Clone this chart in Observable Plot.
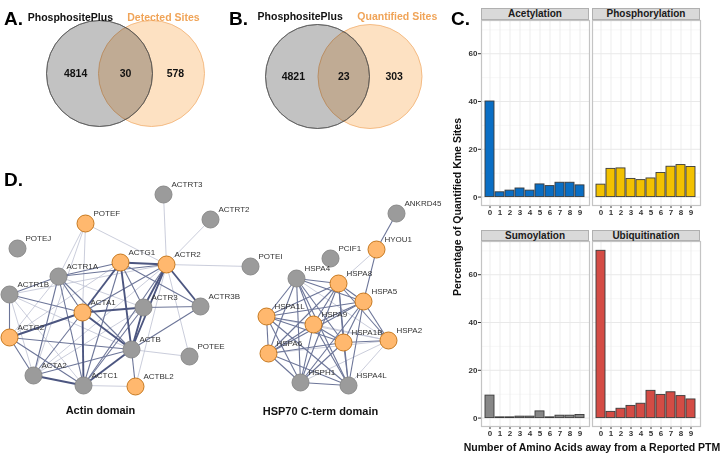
<!DOCTYPE html>
<html><head><meta charset="utf-8">
<script src="https://cdn.jsdelivr.net/npm/d3@7"></script>
<script src="https://cdn.jsdelivr.net/npm/@observablehq/plot@0.6"></script>
<style>
body{margin:0;background:#fff;}
#fig{position:relative;width:720px;height:458px;overflow:hidden;font-family:"Liberation Sans",Arial,sans-serif;background:#fff;}
.abs{position:absolute;}
.abs svg{display:block;overflow:visible;}
.letter{position:absolute;font-weight:bold;font-size:19px;color:#000;line-height:1;}
.strip{position:absolute;box-sizing:border-box;background:#d9d9d9;border:1px solid #b0b0b0;font-weight:bold;font-size:10px;line-height:10px;text-align:center;color:#1a1a1a;}
.atitle{position:absolute;font-weight:bold;font-size:10.5px;color:#111;text-align:center;white-space:nowrap;}
</style></head><body><div id="fig"></div>
<script>
// ---------------- DATA ----------------
// Panel A / B Venn diagrams
const vennASets = ["PhosphositePlus", "Detected Sites"];
const vennACounts = [4814, 30, 578];
const vennBSets = ["PhosphositePlus", "Quantified Sites"];
const vennBCounts = [4821, 23, 303];

// Panel C: percentage of quantified Kme sites vs distance to reported PTM
const ptms = ["Acetylation", "Phosphorylation", "Sumoylation", "Ubiquitination"];
const distances = ["0", "1", "2", "3", "4", "5", "6", "7", "8", "9"];
const acetylation = [40.0, 2.0, 2.7, 3.6, 2.7, 5.3, 4.6, 6.0, 6.0, 4.9];
const phosphorylation = [5.2, 11.8, 12.0, 7.6, 7.1, 7.8, 10.1, 12.7, 13.4, 12.6];
const sumoylation = [9.4, 0.3, 0.3, 0.6, 0.6, 2.8, 0.3, 1.0, 1.0, 1.3];
const ubiquitination = [70.0, 2.6, 3.9, 5.1, 6.0, 11.4, 9.7, 10.8, 9.2, 7.8];
const yTicks = [0, 20, 40, 60];

// Panel D: STRING networks
const domainNames = ["Actin domain", "HSP70 C-term domain"];
const actinProteins = ["ACTRT3","ACTRT2","POTEF","POTEJ","ACTG1","ACTR2","POTEI","ACTR1A","ACTR1B","ACTR3","ACTR3B","ACTA1","ACTG2","ACTB","POTEE","ACTA2","ACTC1","ACTBL2"];
const hspProteins = ["ANKRD45","HYOU1","PCIF1","HSPA4","HSPA8","HSPA5","HSPA1L","HSPA9","HSPA1B","HSPA2","HSPA6","HSPH1","HSPA4L"];
const quantifiedProteins = ["POTEF","ACTG1","ACTR2","ACTA1","ACTG2","ACTBL2","HYOU1","HSPA8","HSPA5","HSPA9","HSPA1B","HSPA2","HSPA1L","HSPA6"];
// [protein A, protein B, confidence 1..3]
const actinEdges = [
  ["POTEF","ACTR2",1],["POTEF","ACTA1",1],["POTEF","ACTR1A",1],["POTEF","ACTA2",1],
  ["ACTRT3","ACTR2",1],["ACTRT2","ACTR2",1],["POTEI","ACTR2",1],["POTEE","ACTR2",1],["ACTBL2","ACTR2",1],
  ["POTEE","ACTB",1],["ACTBL2","ACTC1",1],["ACTBL2","ACTB",2],
  ["ACTG1","ACTR1A",2],["ACTG1","ACTR2",3],["ACTG1","ACTA1",3],["ACTG1","ACTR3",2],["ACTG1","ACTB",3],["ACTG1","ACTR3B",2],["ACTG1","ACTC1",2],["ACTG1","ACTG2",1],
  ["ACTR2","ACTR1A",2],["ACTR2","ACTR3",3],["ACTR2","ACTR3B",3],["ACTR2","ACTB",3],["ACTR2","ACTA1",2],["ACTR2","ACTC1",2],["ACTR2","ACTR1B",1],["ACTR2","ACTA2",1],
  ["ACTR1A","ACTR1B",2],["ACTR1A","ACTA1",2],["ACTR1A","ACTR3",1],["ACTR1A","ACTB",2],["ACTR1A","ACTA2",2],["ACTR1A","ACTC1",2],["ACTR1A","ACTG2",1],
  ["ACTR1B","ACTG2",2],["ACTR1B","ACTA1",2],["ACTR1B","ACTA2",1],["ACTR1B","ACTB",1],["ACTR1B","ACTC1",1],
  ["ACTA1","ACTR3",3],["ACTA1","ACTB",3],["ACTA1","ACTG2",3],["ACTA1","ACTA2",2],["ACTA1","ACTC1",3],
  ["ACTR3","ACTR3B",2],["ACTR3","ACTB",3],["ACTR3","ACTC1",2],["ACTR3","ACTA2",1],
  ["ACTR3B","ACTB",2],["ACTG2","ACTA2",2],["ACTG2","ACTC1",2],["ACTG2","ACTB",2],
  ["ACTB","ACTA2",2],["ACTB","ACTC1",3],["ACTA2","ACTC1",3]
];
const hspEdges = [
  ["ANKRD45","HYOU1",2],["HYOU1","HSPA5",2],["HYOU1","HSPA8",1],
  ["HSPA4","HSPA8",2],["HSPA4","HSPA5",2],["HSPA4","HSPA9",2],["HSPA4","HSPA1B",2],["HSPA4","HSPA1L",2],["HSPA4","HSPA6",2],["HSPA4","HSPH1",2],["HSPA4","HSPA4L",2],["HSPA4","HSPA2",1],
  ["HSPA8","HSPA5",2],["HSPA8","HSPA9",2],["HSPA8","HSPA1B",2],["HSPA8","HSPA1L",2],["HSPA8","HSPA6",2],["HSPA8","HSPH1",2],["HSPA8","HSPA4L",2],["HSPA8","HSPA2",2],
  ["HSPA5","HSPA9",2],["HSPA5","HSPA1B",2],["HSPA5","HSPA1L",2],["HSPA5","HSPA6",2],["HSPA5","HSPH1",2],["HSPA5","HSPA4L",2],["HSPA5","HSPA2",2],
  ["HSPA9","HSPA1B",2],["HSPA9","HSPA1L",2],["HSPA9","HSPA6",2],["HSPA9","HSPH1",2],["HSPA9","HSPA4L",2],["HSPA9","HSPA2",1],
  ["HSPA1B","HSPA1L",2],["HSPA1B","HSPA6",2],["HSPA1B","HSPH1",2],["HSPA1B","HSPA4L",2],["HSPA1B","HSPA2",2],
  ["HSPA1L","HSPA6",2],["HSPA1L","HSPH1",2],["HSPA1L","HSPA4L",2],["HSPA1L","HSPA2",1],
  ["HSPA6","HSPH1",2],["HSPA6","HSPA4L",2],["HSPA6","HSPA2",1],
  ["HSPH1","HSPA4L",2],["HSPH1","HSPA2",1],["HSPA2","HSPA4L",1]
];

// ---------------- LAYOUT (network node positions, layout units) ----------------
const layout = {
  ACTRT3:[163,34], ACTRT2:[210,59], POTEF:[85,63], POTEJ:[17,88], ACTG1:[120,102], ACTR2:[166,104],
  POTEI:[250,106], ACTR1A:[58,116], ACTR1B:[9,134], ACTR3:[143,147], ACTR3B:[200,146], ACTA1:[82,152],
  ACTG2:[9,177], ACTB:[131,189], POTEE:[189,196], ACTA2:[33,215], ACTC1:[83,225], ACTBL2:[135,226],
  ANKRD45:[396,53], HYOU1:[376,89], PCIF1:[330,98], HSPA4:[296,118], HSPA8:[338,123], HSPA5:[363,141],
  HSPA1L:[266,156], HSPA9:[313,164], HSPA1B:[343,182], HSPA2:[388,180], HSPA6:[268,193], HSPH1:[300,222], HSPA4L:[348,225]
};
const domainLabelPos = [[100,250],[320,251]];

const fig = document.getElementById("fig");
function place(node, left, top){
  const d = document.createElement("div");
  d.className = "abs"; d.style.left = left + "px"; d.style.top = top + "px";
  d.appendChild(node); fig.appendChild(d); return d;
}
function html(cls, text, css){
  const d = document.createElement("div"); d.className = cls; d.textContent = text;
  Object.assign(d.style, css); fig.appendChild(d); return d;
}
const FONT = '"Liberation Sans", Arial, sans-serif';

// ---------------- VENN ----------------
function venn(sets, counts, L, W, cx0, cx1, cy, r, titleX, titleY){
  const H = 140, T = cy - H/2;
  const circles = sets.map((s,i)=>({s, i}));
  const regionX = [-0.46, 0.5, 1.46];
  const regions = counts.map((c,i)=>({c, x: regionX[i]}));
  const titles = sets.map((s,i)=>({s, x: titleX[i], i}));
  const p = Plot.plot({
    width: W, height: H, margin: 0,
    x: {domain: [0,1], range: [cx0 - L, cx1 - L], axis: null},
    style: {fontFamily: FONT, background: "transparent"},
    marks: [
      Plot.dot([circles[0]], {x: "i", r, fill: "#c2c2c2", stroke: "#555", strokeWidth: 0.8}),
      Plot.dot([circles[1]], {x: "i", r, fill: "#fde1c2", stroke: "#f3b67a", strokeWidth: 0.9, mixBlendMode: "multiply"}),
      Plot.dot([circles[0]], {x: "i", r, fill: "none", stroke: "#555", strokeWidth: 0.8, strokeOpacity: 0.7}),
      Plot.text(regions, {x: "x", text: d => String(d.c), fontSize: 10.5, fontWeight: "bold", fill: "#111"}),
      Plot.text(titles, {x: "x", frameAnchor: "top", dy: titleY - T, text: "s", fontSize: 10.5, fontWeight: "bold",
        fill: d => d.i === 0 ? "#111" : "#f0a458"})
    ]
  });
  place(p, L, T);
}
venn(vennASets, vennACounts, 0, 232, 99, 151, 73, 53, [-0.56, 1.23], 13);
venn(vennBSets, vennBCounts, 232, 236, 317, 369.5, 76, 52, [-0.33, 1.52], 12);

// ---------------- NETWORK ----------------
{
  const q = new Set(quantifiedProteins);
  const nodes = [...actinProteins, ...hspProteins].map(n => ({name: n, x: layout[n][0], y: layout[n][1], q: q.has(n)}));
  const edges = [...actinEdges, ...hspEdges].map(([a,b,w]) => ({a, b, w,
    x1: layout[a][0], y1: layout[a][1], x2: layout[b][0], y2: layout[b][1]})).sort((u,v)=>u.w-v.w);
  const eColor = {1: "#bcc0d2", 2: "#6c7598", 3: "#4c5680"};
  const eWidth = {1: 0.8, 2: 1.1, 3: 1.9};
  const dl = domainNames.map((n,i)=>({n, x: domainLabelPos[i][0], y: domainLabelPos[i][1]}));
  const p = Plot.plot({
    width: 420, height: 270, margin: 0,
    x: {domain: [0,420], range: [0,420], axis: null},
    y: {domain: [0,270], range: [0,270], axis: null},
    style: {fontFamily: FONT, background: "transparent"},
    marks: [
      Plot.link(edges, {x1: "x1", y1: "y1", x2: "x2", y2: "y2", stroke: d => eColor[d.w], strokeWidth: d => eWidth[d.w]}),
      Plot.dot(nodes, {x: "x", y: "y", r: 8.5, fill: d => d.q ? "#ffb86e" : "#9b9b9b", stroke: d => d.q ? "#c7791f" : "#8a8a8a", strokeWidth: 1}),
      Plot.text(nodes, {x: "x", y: "y", text: "name", dx: 8, dy: -10, textAnchor: "start", fontSize: 8, fill: "#333"}),
      Plot.text(dl, {x: "x", y: "y", text: "n", fontSize: 11, fontWeight: "bold", fill: "#111"})
    ]
  });
  place(p, 0, 160);
}

// ---------------- FACET BARS ----------------
const ptmValues = [acetylation, phosphorylation, sumoylation, ubiquitination];
const ptmColors = ["#0a6ec4", "#f2c100", "#878787", "#d44c45"];
const panelLeft = [481, 592, 481, 592];
const panelTop = [20, 20, 241, 241];
const stripTop = [8, 8, 230, 230];
ptms.forEach((name, k) => {
  const data = distances.map((d,i)=>({d, v: ptmValues[k][i]}));
  const showY = k % 2 === 0;
  const PW = 108, PH = 185, ML = 22, MB = 16;
  const p = Plot.plot({
    width: ML + PW + 1, height: PH + MB, marginLeft: ML, marginRight: 1, marginTop: 0, marginBottom: MB,
    x: {type: "band", domain: distances, paddingInner: 0.06, paddingOuter: 0.03, label: null, tickSize: 3, tickPadding: 1},
    y: {domain: [-3.52, 73.9], label: null, ticks: yTicks, tickSize: 3, tickPadding: 1, axis: showY ? "left" : null},
    style: {fontFamily: FONT, fontSize: "8px", fontWeight: "bold", color: "#333", background: "transparent"},
    marks: [
      Plot.ruleY([10,30,50,70], {stroke: "#f1f1f1", strokeWidth: 0.6}),
      Plot.ruleY(yTicks, {stroke: "#e3e3e3", strokeWidth: 0.8}),
      Plot.ruleX(distances, {x: d => d, stroke: "#e8e8e8", strokeWidth: 0.8}),
      Plot.barY(data, {x: "d", y: "v", fill: ptmColors[k], stroke: "#3a3a3a", strokeWidth: 0.9}),
      Plot.frame({stroke: "#c4c4c4", strokeWidth: 1.2})
    ]
  });
  place(p, panelLeft[k] - ML, panelTop[k]);
  html("strip", name, {left: panelLeft[k] + "px", top: stripTop[k] + "px", width: PW + "px", height: (panelTop[k] - stripTop[k]) + "px"});
});

// axis titles
html("atitle", "Number of Amino Acids away from a Reported PTM", {left: "440px", top: "441px", width: "304px"});
html("atitle", "Percentage of Quantified Kme Sites", {left: (457 - 150) + "px", top: (207 - 6) + "px", width: "300px", transform: "rotate(-90deg)", transformOrigin: "150px 6px"});

// panel letters
html("letter", "A.", {left: "4px", top: "9px"});
html("letter", "B.", {left: "229px", top: "9px"});
html("letter", "C.", {left: "451px", top: "9px"});
html("letter", "D.", {left: "4px", top: "170px"});
</script></body></html>
